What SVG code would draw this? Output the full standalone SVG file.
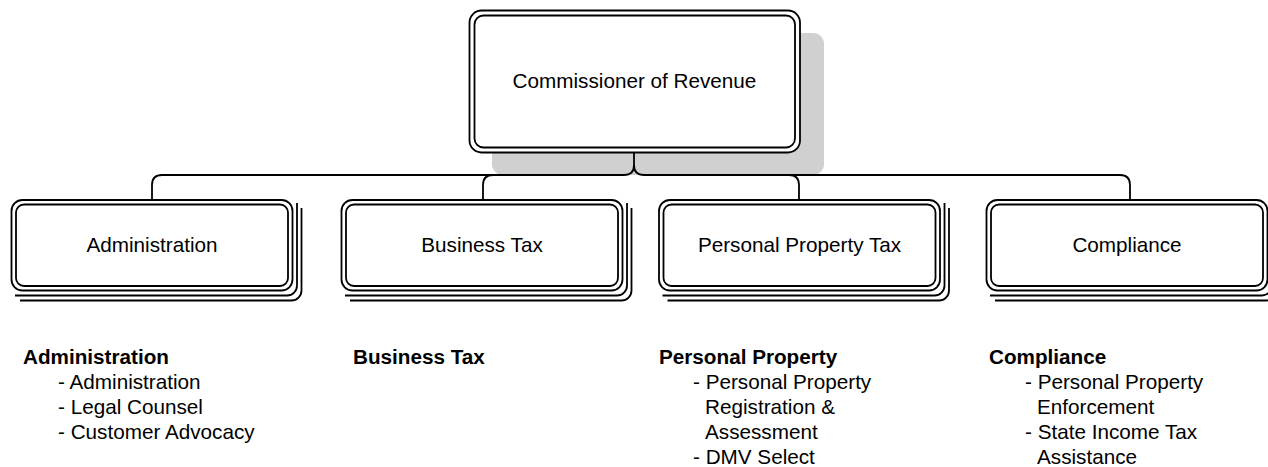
<svg xmlns="http://www.w3.org/2000/svg" width="1268" height="467" viewBox="0 0 1268 467">
<style>
.ln{fill:none;stroke:#000;stroke-width:1.8}
.bx{fill:#fff;stroke:#000;stroke-width:1.8}
.t{font-family:"Liberation Sans",Arial,sans-serif;font-size:20.7px;fill:#000}
.c{text-anchor:middle}
.b{font-weight:bold}
</style>
<defs>
<g id="stackbox">
<path class="ln" d="M3.5,95.5 H275.5 A10,10 0 0 0 285.5,85.5 V3"/>
<path class="ln" d="M8.5,100.5 H280 A10,10 0 0 0 290,90.5 V8"/>
<rect class="bx" x="0" y="0" width="281" height="90.5" rx="11"/>
<rect class="bx" x="4.5" y="4.5" width="272" height="81.5" rx="8"/>
</g>
</defs>
<rect x="492" y="33" width="332" height="142" rx="11" fill="#d0d0d0"/>
<g id="connectors">
<path class="ln" d="M634,152.5 V165 Q634,175 624,175 H162 Q152,175 152,185 V200"/>
<path class="ln" d="M634,165 Q634,175 644,175 H1120 Q1130,175 1130,185 V200"/>
<path class="ln" d="M493,175 Q483,175 483,185 V200"/>
<path class="ln" d="M789,175 Q799,175 799,185 V200"/>
</g>
<g id="commissioner">
<rect class="bx" x="469.5" y="10.5" width="330.5" height="142" rx="12"/>
<rect class="bx" x="474.5" y="15.5" width="320.5" height="132" rx="9"/>
<text class="t c" x="634.5" y="88">Commissioner of Revenue</text>
</g>
<g id="administration" transform="translate(11.5,200)">
<use href="#stackbox"/>
<text class="t c" x="140.5" y="51.5">Administration</text>
</g>
<g id="business-tax" transform="translate(341.5,200)">
<use href="#stackbox"/>
<text class="t c" x="140.5" y="51.5">Business Tax</text>
</g>
<g id="personal-property-tax" transform="translate(659,200)">
<use href="#stackbox"/>
<text class="t c" x="140.5" y="51.5">Personal Property Tax</text>
</g>
<g id="compliance" transform="translate(986.5,200)">
<use href="#stackbox"/>
<text class="t c" x="140.5" y="51.5">Compliance</text>
</g>
<g id="notes-administration">
<text class="t b" x="23" y="364">Administration</text>
<text class="t" x="58" y="389">- Administration</text>
<text class="t" x="58" y="414">- Legal Counsel</text>
<text class="t" x="58" y="439">- Customer Advocacy</text>
</g>
<g id="notes-business-tax">
<text class="t b" x="353" y="364">Business Tax</text>
</g>
<g id="notes-personal-property">
<text class="t b" x="659" y="364">Personal Property</text>
<text class="t" x="693" y="389">- Personal Property</text>
<text class="t" x="705" y="414">Registration &amp;</text>
<text class="t" x="705" y="439">Assessment</text>
<text class="t" x="693" y="464">- DMV Select</text>
</g>
<g id="notes-compliance">
<text class="t b" x="989" y="364">Compliance</text>
<text class="t" x="1025" y="389">- Personal Property</text>
<text class="t" x="1037" y="414">Enforcement</text>
<text class="t" x="1025" y="439">- State Income Tax</text>
<text class="t" x="1037" y="464">Assistance</text>
</g>
</svg>
